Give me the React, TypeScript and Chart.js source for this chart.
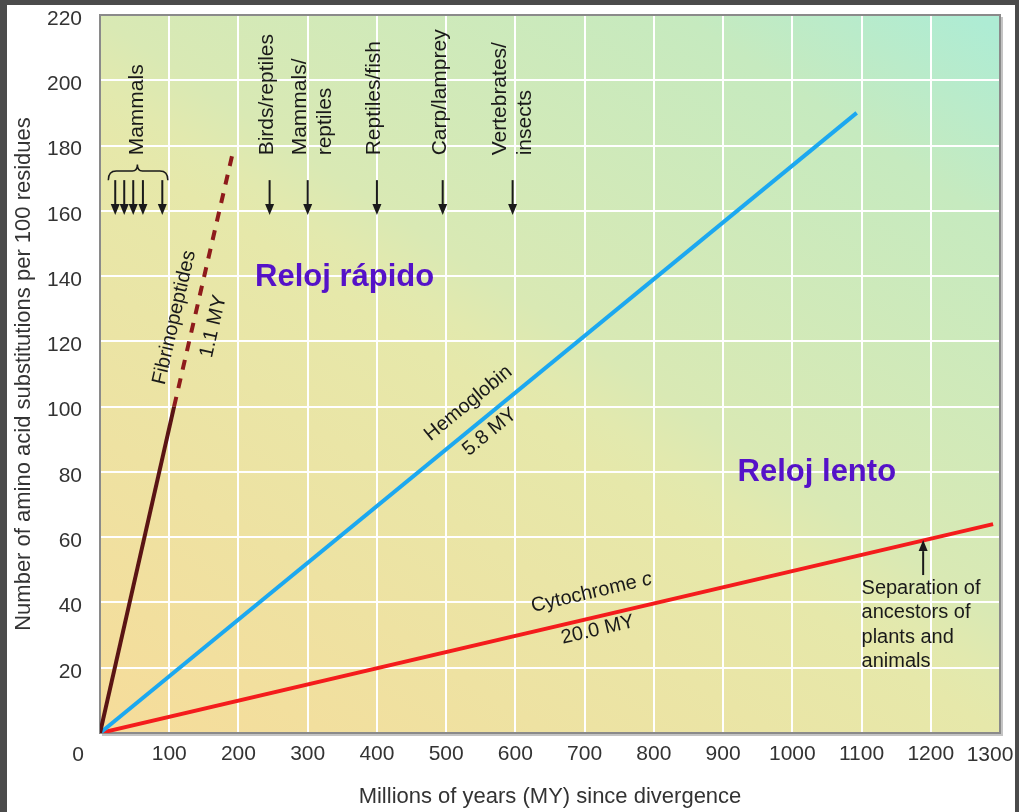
import React, { useEffect, useRef } from "react";
import { Chart, registerables } from "chart.js";

Chart.register(...registerables);

const FONT = '"Liberation Sans", Arial, Helvetica, sans-serif';

// Axis ranges / ticks
const xMin = 0;
const xMax = 1300;
const xStep = 100;
const yMin = 0;
const yMax = 220;
const yStep = 20;

// Series (Millions of years since divergence vs substitutions per 100 residues)
const fibSolidMY = [0, 107];
const fibSolidSubs = [0, 100];
const fibDashMY = [107, 192];
const fibDashSubs = [100, 178];
const hemoMY = [0, 1093];
const hemoSubs = [0, 190];
const cytoMY = [0, 1290];
const cytoSubs = [0, 64];

// Divergence markers
const mammalArrowMY = [22, 35, 48, 62, 90];
const divergenceArrowMY = [245, 300, 400, 495, 596];
const divergenceLabelMY = [242, 289, 396, 492, 578];
const divergenceLabels = [
  ["Birds/reptiles"],
  ["Mammals/", "reptiles"],
  ["Reptiles/fish"],
  ["Carp/lamprey"],
  ["Vertebrates/", "insects"],
];
const separationLines = ["Separation of", "ancestors of", "plants and", "animals"];

function pts(xs: number[], ys: number[]) {
  return xs.map((x, i) => ({ x, y: ys[i] }));
}

function arrow(ctx: CanvasRenderingContext2D, x: number, yFrom: number, yTo: number) {
  const dir = yTo > yFrom ? 1 : -1;
  const head = 11;
  const hw = 4.5;
  ctx.beginPath();
  ctx.moveTo(x, yFrom);
  ctx.lineTo(x, yTo - dir * head);
  ctx.stroke();
  ctx.beginPath();
  ctx.moveTo(x, yTo);
  ctx.lineTo(x - hw, yTo - dir * head);
  ctx.lineTo(x + hw, yTo - dir * head);
  ctx.closePath();
  ctx.fill();
}

function rotText(
  ctx: CanvasRenderingContext2D,
  text: string,
  x: number,
  y: number,
  ang: number,
  align: CanvasTextAlign = "center"
) {
  ctx.save();
  ctx.translate(x, y);
  ctx.rotate(ang);
  ctx.textAlign = align;
  ctx.textBaseline = "middle";
  ctx.fillText(text, 0, 0);
  ctx.restore();
}

const bgPlugin = {
  id: "bgPlugin",
  beforeDraw(chart: any) {
    const { ctx, width, height, chartArea: a } = chart;
    ctx.save();
    ctx.fillStyle = "#4b4b4b";
    ctx.fillRect(0, 0, width, height);
    ctx.fillStyle = "#ffffff";
    ctx.fillRect(7, 5, width - 11, height - 5);
    const g = ctx.createLinearGradient(a.left, a.bottom, a.left + 600, a.top - 182);
    g.addColorStop(0, "#f6dc9a");
    g.addColorStop(0.46, "#e6e8aa");
    g.addColorStop(0.5, "#e2e9ae");
    g.addColorStop(0.55, "#d9e9b4");
    g.addColorStop(0.85, "#c6eabf");
    g.addColorStop(1, "#aeecd4");
    ctx.fillStyle = g;
    ctx.fillRect(a.left, a.top, a.right - a.left, a.bottom - a.top);
    ctx.restore();
  },
  beforeDatasetsDraw(chart: any) {
    const { ctx, chartArea: a } = chart;
    ctx.save();
    ctx.strokeStyle = "#c4c4c4";
    ctx.lineWidth = 2;
    ctx.beginPath();
    ctx.moveTo(a.right + 2, a.top + 2);
    ctx.lineTo(a.right + 2, a.bottom + 2);
    ctx.lineTo(a.left + 2, a.bottom + 2);
    ctx.stroke();
    ctx.strokeStyle = "#8a8a8a";
    ctx.lineWidth = 2;
    ctx.strokeRect(a.left, a.top, a.right - a.left, a.bottom - a.top);
    ctx.restore();
  },
};

const annotPlugin = {
  id: "annotPlugin",
  afterDatasetsDraw(chart: any) {
    const { ctx } = chart;
    const xs = chart.scales.x;
    const ys = chart.scales.y;
    const X = (v: number) => xs.getPixelForValue(v);
    const Y = (v: number) => ys.getPixelForValue(v);
    ctx.save();
    ctx.fillStyle = "#1a1a1a";
    ctx.strokeStyle = "#1a1a1a";
    ctx.lineWidth = 2;

    // Mammal arrows + brace
    mammalArrowMY.forEach((m) => arrow(ctx, X(m), Y(169.4), Y(158.7)));
    const bx1 = X(12);
    const bx2 = X(98);
    const bxc = X(54);
    const byEnd = Y(169.4);
    const byLine = Y(172.2);
    const byTip = Y(174.2);
    ctx.lineWidth = 1.5;
    ctx.beginPath();
    ctx.moveTo(bx1, byEnd);
    ctx.quadraticCurveTo(bx1, byLine, bx1 + 8, byLine);
    ctx.lineTo(bxc - 5, byLine);
    ctx.quadraticCurveTo(bxc, byLine, bxc, byTip);
    ctx.quadraticCurveTo(bxc, byLine, bxc + 5, byLine);
    ctx.lineTo(bx2 - 8, byLine);
    ctx.quadraticCurveTo(bx2, byLine, bx2, byEnd);
    ctx.stroke();
    ctx.lineWidth = 2;

    ctx.font = `21px ${FONT}`;
    rotText(ctx, "Mammals", X(54), Y(177), -Math.PI / 2, "left");

    // Divergence arrows and labels
    divergenceArrowMY.forEach((m) => arrow(ctx, X(m), Y(169.4), Y(158.7)));
    divergenceLabels.forEach((lines, i) => {
      lines.forEach((t, j) => {
        rotText(ctx, t, X(divergenceLabelMY[i]) + j * 25, Y(177), -Math.PI / 2, "left");
      });
    });

    // Line labels, rotated along each line
    const angOf = (x0: number, y0: number, x1: number, y1: number) =>
      Math.atan2(Y(y1) - Y(y0), X(x1) - X(x0));
    const aFib = angOf(fibSolidMY[0], fibSolidSubs[0], fibDashMY[1], fibDashSubs[1]);
    const aHem = angOf(hemoMY[0], hemoSubs[0], hemoMY[1], hemoSubs[1]);
    const aCyt = angOf(cytoMY[0], cytoSubs[0], cytoMY[1], cytoSubs[1]);

    ctx.font = `20px ${FONT}`;
    rotText(ctx, "Fibrinopeptides", X(107.6), Y(127.3), aFib);
    rotText(ctx, "1.1 MY", X(164), Y(124.6), aFib);
    rotText(ctx, "Hemoglobin", X(532), Y(101), aHem);
    rotText(ctx, "5.8 MY", X(563), Y(92.2), aHem);

    // Cytochrome c (c in italic)
    {
      const normal = `20px ${FONT}`;
      const italic = `italic 20px ${FONT}`;
      ctx.font = normal;
      const w1 = ctx.measureText("Cytochrome ").width;
      ctx.font = italic;
      const w2 = ctx.measureText("c").width;
      ctx.save();
      ctx.translate(X(710), Y(43));
      ctx.rotate(aCyt);
      ctx.textBaseline = "middle";
      ctx.textAlign = "left";
      const start = -(w1 + w2) / 2;
      ctx.font = normal;
      ctx.fillText("Cytochrome ", start, 0);
      ctx.font = italic;
      ctx.fillText("c", start + w1, 0);
      ctx.restore();
    }
    ctx.font = `20px ${FONT}`;
    rotText(ctx, "20.0 MY", X(719), Y(31.6), aCyt);

    // Separation arrow and text
    arrow(ctx, X(1189), Y(48.4), Y(59.1));
    ctx.textAlign = "left";
    ctx.textBaseline = "middle";
    const sepTop = Y(44.4);
    separationLines.forEach((t, i) => ctx.fillText(t, X(1100), sepTop + i * 24.5));

    // Clock labels
    ctx.fillStyle = "#5512c8";
    ctx.font = `bold 31px ${FONT}`;
    ctx.fillText("Reloj rápido", X(224), Y(139.7));
    ctx.fillText("Reloj lento", X(921), Y(79.7));

    // Corner tick labels (0 and 1300), offset as in the original
    ctx.fillStyle = "#333333";
    ctx.font = `21px ${FONT}`;
    ctx.textAlign = "center";
    const tickY = Y(0) + 22;
    ctx.fillText(String(xMin), X(xMin) - 22, tickY);
    ctx.fillText(String(xMax), X(xMax) - 10, tickY);
    ctx.restore();
  },
};

export default function App() {
  const ref = useRef<HTMLCanvasElement>(null);
  useEffect(() => {
    if (!ref.current) return;
    Chart.defaults.font.family = FONT;
    const chart = new Chart(ref.current, {
      type: "scatter",
      data: {
        datasets: [
          {
            data: pts(fibSolidMY, fibSolidSubs),
            showLine: true,
            borderColor: "#5a1414",
            borderWidth: 4,
            pointRadius: 0,
          },
          {
            data: pts(fibDashMY, fibDashSubs),
            showLine: true,
            borderColor: "#8e1b1b",
            borderWidth: 4,
            borderDash: [10, 9],
            pointRadius: 0,
          },
          {
            data: pts(hemoMY, hemoSubs),
            showLine: true,
            borderColor: "#1ca8f0",
            borderWidth: 4,
            pointRadius: 0,
          },
          {
            data: pts(cytoMY, cytoSubs),
            showLine: true,
            borderColor: "#f41c1c",
            borderWidth: 4,
            pointRadius: 0,
          },
        ],
      },
      options: {
        responsive: false,
        animation: false,
        layout: { padding: { left: 0, right: 19, top: 15, bottom: 0 } },
        plugins: { legend: { display: false }, tooltip: { enabled: false } },
        scales: {
          x: {
            type: "linear",
            min: xMin,
            max: xMax,
            ticks: {
              stepSize: xStep,
              autoSkip: false,
              maxRotation: 0,
              padding: 9,
              color: "#333333",
              font: { size: 21 },
              callback: (v: any) => (v === xMin || v === xMax ? "" : String(v)),
            },
            grid: { color: "#ffffff", lineWidth: 2, drawTicks: false },
            border: { display: false },
            title: {
              display: true,
              text: "Millions of years (MY) since divergence",
              color: "#333333",
              font: { size: 22 },
              padding: { top: 0, bottom: 2 },
            },
            afterFit: (s: any) => {
              s.height = 79;
              s.paddingLeft = 0;
              s.paddingRight = 0;
            },
          },
          y: {
            type: "linear",
            min: yMin,
            max: yMax,
            ticks: {
              stepSize: yStep,
              autoSkip: false,
              padding: 18,
              labelOffset: 4,
              color: "#333333",
              font: { size: 21 },
              callback: (v: any) => (v === yMin ? "" : String(v)),
            },
            grid: { color: "#ffffff", lineWidth: 2, drawTicks: false },
            border: { display: false },
            title: {
              display: true,
              text: "Number of amino acid substitutions per 100 residues",
              color: "#333333",
              font: { size: 22 },
              padding: { top: 11, bottom: 0 },
            },
            afterFit: (s: any) => {
              s.width = 100;
              s.paddingTop = 0;
              s.paddingBottom = 0;
            },
          },
        },
      },
      plugins: [bgPlugin, annotPlugin],
    } as any);
    return () => chart.destroy();
  }, []);
  return (
    <div style={{ position: "fixed", left: 0, top: 0, width: 1019, height: 812 }}>
      <canvas ref={ref} width={1019} height={812} style={{ display: "block" }} />
    </div>
  );
}
